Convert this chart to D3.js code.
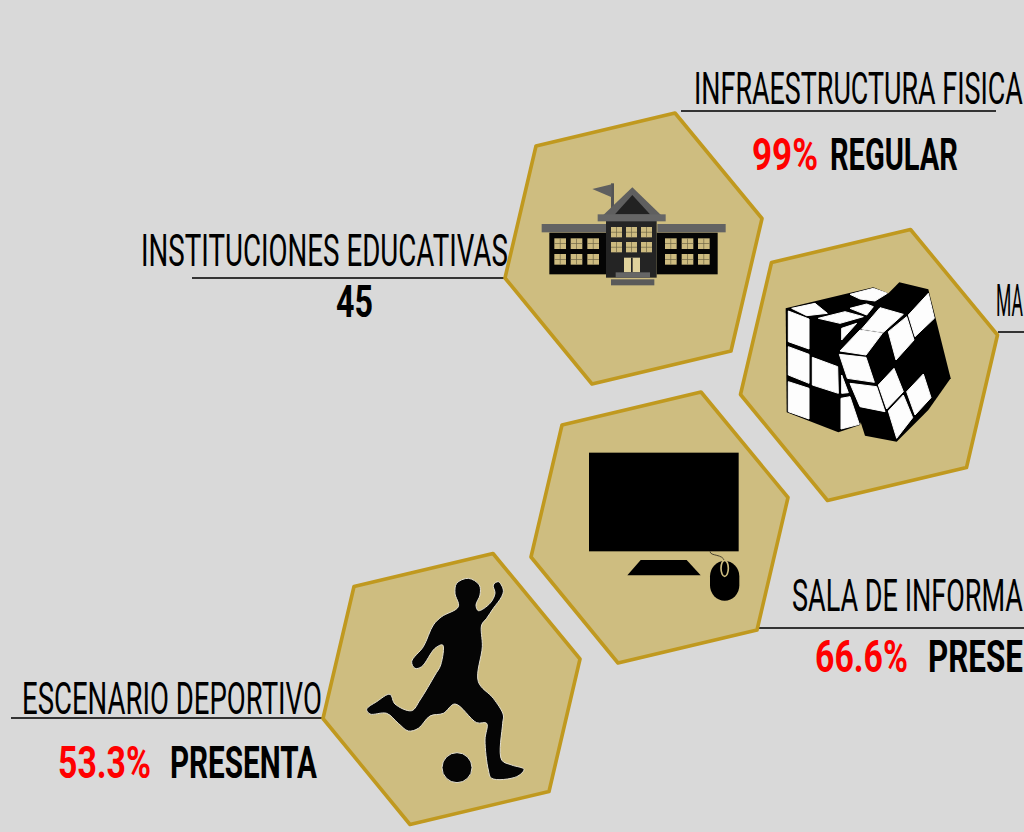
<!DOCTYPE html>
<html>
<head>
<meta charset="utf-8">
<script src="https://cdn.jsdelivr.net/npm/d3@7"></script>
<style>
  html, body { margin: 0; padding: 0; background: #d9d9d9; overflow: hidden; }
  text { font-family: Roboto, "Liberation Sans", sans-serif; }
</style>
</head>
<body>
<div id="graph"></div>
<script>
// =================================== DATA ===================================

// the picture is cropped on its right side, the strings are what it still shows
const categories = ['INFRAESTRUCTURA FISICA', 'INSTITUCIONES EDUCATIVAS', 'MA', 'SALA DE INFORMA', 'ESCENARIO DEPORTIVO']
const percentValues = [99, null, null, 66.6, 53.3]
const statusLabels = ['REGULAR', null, null, 'PRESE', 'PRESENTA']
const countValues = [null, 45, null, null, null]

// =================================== LAYOUT ===================================

const width = 1024
const height = 832

// one entry per category: title, rule and value row
const labelLayout = [
  { x: 694, y: 104, w: 329, rule: [681, 996, 111], valueY: 170, pctX: 752, pctW: 66, statusX: 830, statusW: 128 },
  { x: 141, y: 266, w: 367, rule: [192, 506, 278], valueY: 317, pctX: 336, pctW: 37 },
  { x: 996, y: 316, w: 27, rule: [998, 1024, 332] },
  { x: 792, y: 611, w: 231, rule: [759, 1024, 628], valueY: 672, pctX: 815, pctW: 93, statusX: 928, statusW: 95 },
  { x: 22, y: 714, w: 300, rule: [11, 326, 718], valueY: 778, pctX: 58, pctW: 93, statusX: 170, statusW: 147 }
]

const hexCenters = [[633.5, 248.5], [869, 365], [659.5, 527.5], [451.5, 689]]
const hexOffsets = [[-97.5, -102.5], [41.5, -135.5], [128.5, -30], [97.5, 102.5], [-41.5, 135.5], [-128.5, 29.5]]

const svg = d3.select('#graph').append('svg')
  .attr('width', width)
  .attr('height', height)
  .style('display', 'block')

svg.append('rect').attr('width', width).attr('height', height).attr('fill', '#d9d9d9')

// =================================== RULES ===================================

svg.append('g').selectAll('line')
  .data(labelLayout)
  .enter().append('line')
  .attr('x1', d => d.rule[0])
  .attr('x2', d => d.rule[1])
  .attr('y1', d => d.rule[2])
  .attr('y2', d => d.rule[2])
  .attr('stroke', '#333')
  .attr('stroke-width', 2)

// =================================== HEXAGONS ===================================

const hexLine = d3.line().curve(d3.curveLinearClosed)

svg.append('g').selectAll('path')
  .data(hexCenters)
  .enter().append('path')
  .attr('d', c => hexLine(hexOffsets.map(o => [c[0] + o[0], c[1] + o[1]])))
  .attr('fill', '#cebd80')
  .attr('stroke', '#c0991f')
  .attr('stroke-width', 3.6)
  .attr('stroke-linejoin', 'round')

// =================================== ICONS ===================================

// icon outlines were traced on 3x crops, so each icon has its own crop origin
function iconGroup (originX, originY) {
  return svg.append('g').attr('transform', `translate(${originX},${originY}) scale(${1 / 3})`)
}

function poly (g, points, fill) {
  return g.append('polygon').attr('points', points.map(p => p.join(',')).join(' ')).attr('fill', fill)
}

function box (g, x, y, w, h, fill) {
  return g.append('rect').attr('x', x).attr('y', y).attr('width', w).attr('height', h).attr('fill', fill)
}

// school
const school = iconGroup(500, 100)
box(school, 148, 398, 170, 125, '#050505')
box(school, 470, 398, 183, 125, '#050505')
box(school, 125, 372, 193, 25, '#636363')
box(school, 472, 372, 205, 25, '#636363')
box(school, 333, 250, 9, 75, '#555')
poly(school, [[277, 267], [335, 253], [335, 292]], '#5f5f5f')
poly(school, [[310, 345], [397, 262], [483, 345]], '#5f5f5f')
poly(school, [[345, 343], [397, 285], [450, 343]], '#222')
box(school, 318, 362, 152, 171, '#242424')
box(school, 293, 343, 204, 21, '#666')

function windowPane (x, y, w, h) {
  box(school, x, y, w, h, '#cdbb80')
  box(school, x + w / 2 - 1, y, 2, h, '#6d6444')
  box(school, x, y + h / 2 - 1, w, 2, '#6d6444')
}
[163, 212, 262, 495, 545, 594].forEach(x => [415, 462].forEach(y => windowPane(x, y, 35, 32)))
;[333, 378, 423].forEach(x => [381, 426].forEach(y => windowPane(x, y, 33, 31)))
box(school, 372, 473, 48, 44, '#e0d29c')
box(school, 393, 473, 5, 44, '#242424')
box(school, 347, 517, 103, 16, '#666')
box(school, 333, 538, 130, 18, '#5a5a5a')

// cube
const cube = iconGroup(740, 225)
const cubeWhite = '#fdfdfd'
function sticker (points) {
  poly(cube, points, cubeWhite)
    .attr('stroke', cubeWhite)
    .attr('stroke-width', 3)
    .attr('stroke-linejoin', 'round')
}
poly(cube, [[137, 250], [400, 187], [445, 205], [420, 400], [360, 600], [295, 622], [140, 562]], '#000')
const leftStickers = [
  [[145, 258], [207, 282], [207, 372], [145, 350]],
  [[145, 365], [207, 388], [207, 475], [145, 450]],
  [[145, 470], [207, 490], [207, 582], [145, 560]],
  [[217, 397], [293, 425], [295, 505], [217, 480]],
  [[305, 310], [350, 295], [305, 345]],
  [[305, 450], [325, 503], [305, 505]],
  [[303, 520], [330, 515], [358, 598], [303, 612]],
  [[155, 250], [225, 235], [262, 265], [200, 272]],
  [[235, 280], [315, 260], [370, 275], [300, 295]],
  [[330, 208], [400, 190], [442, 205], [405, 228], [360, 222]],
  [[330, 250], [380, 237], [400, 245], [380, 270]]
]
leftStickers.forEach(sticker)
poly(cube, [[478, 172], [565, 193], [632, 460], [565, 555], [470, 650], [375, 632], [295, 380], [410, 240]], '#000')
const rightStickers = [
  [[365, 312], [430, 322], [490, 268], [420, 248]],
  [[300, 378], [378, 390], [427, 325], [360, 315]],
  [[505, 270], [565, 205], [583, 280], [525, 335]],
  [[445, 320], [500, 275], [522, 345], [468, 405]],
  [[298, 388], [378, 397], [403, 472], [322, 460]],
  [[330, 475], [410, 485], [435, 560], [360, 545]],
  [[415, 480], [462, 430], [490, 500], [440, 552]],
  [[445, 558], [490, 510], [518, 578], [470, 640]],
  [[500, 500], [550, 447], [573, 518], [525, 570]]
]
rightStickers.forEach(sticker)

// monitor and mouse
const monitor = iconGroup(530, 390)
box(monitor, 177, 188, 449, 296, '#000')
poly(monitor, [[292, 556], [332, 510], [470, 510], [512, 556]], '#000')
monitor.append('path')
  .attr('d', 'M540,484 C540,500 580,490 584,515')
  .attr('fill', 'none').attr('stroke', '#4a4430').attr('stroke-width', 3)
monitor.append('rect')
  .attr('x', 540).attr('y', 513).attr('width', 88).attr('height', 119).attr('rx', 44).attr('ry', 46)
  .attr('fill', '#000')
monitor.append('ellipse')
  .attr('cx', 584).attr('cy', 535).attr('rx', 11).attr('ry', 24)
  .attr('fill', '#000').attr('stroke', '#cebd80').attr('stroke-width', 5)

// player and ball
const player = iconGroup(320, 550)
const playerOutline = [
  [445, 85], [478, 105], [480, 135], [468, 165], [475, 182], [510, 160], [525, 130], [520, 105], [535, 95],
  [550, 120], [545, 140], [520, 175], [500, 205], [485, 225], [487, 290], [475, 395], [520, 445], [550, 495],
  [548, 520], [545, 630], [575, 645], [612, 658], [590, 680], [515, 685], [505, 660], [495, 570], [500, 520],
  [470, 518], [405, 462], [370, 490], [330, 498], [295, 535], [265, 543], [235, 520], [200, 490], [150, 492],
  [140, 478], [170, 455], [210, 433], [225, 462], [275, 482], [300, 450], [345, 375], [362, 345], [368, 285],
  [345, 295], [305, 350], [285, 355], [275, 335], [310, 290], [340, 225], [365, 200], [415, 170], [405, 130], [410, 100]
]
player.append('path')
  .attr('d', d3.line().curve(d3.curveCatmullRomClosed.alpha(0.5))(playerOutline))
  .attr('fill', '#050505')
  .attr('stroke', '#e4e0d0')
  .attr('stroke-width', 3)
  .attr('stroke-linejoin', 'round')
player.append('circle')
  .attr('cx', 411).attr('cy', 653).attr('r', 45)
  .attr('fill', '#050505')
  .attr('stroke', '#e4e0d0')
  .attr('stroke-width', 3)

// =================================== LABELS ===================================

// no condensed font is installed: measure the text, then squeeze it to the width in the picture
function fitted (x, y, w, txt, fill, weight) {
  const t = svg.append('text')
    .attr('font-size', 45)
    .attr('font-weight', weight)
    .attr('fill', fill)
    .text(txt)
  const sx = w / t.node().getComputedTextLength()
  t.attr('transform', `translate(${x},${y}) scale(${sx},1)`)
  return t
}

categories.forEach((name, i) => {
  const l = labelLayout[i]
  fitted(l.x, l.y, l.w, name, '#000', 400)
  if (percentValues[i] !== null) {
    fitted(l.pctX, l.valueY, l.pctW, percentValues[i] + '%', '#ff0000', 700)
    fitted(l.statusX, l.valueY, l.statusW, statusLabels[i], '#000', 700)
  }
  if (countValues[i] !== null) {
    fitted(l.pctX, l.valueY, l.pctW, String(countValues[i]), '#000', 700)
  }
})
</script>
</body>
</html>
